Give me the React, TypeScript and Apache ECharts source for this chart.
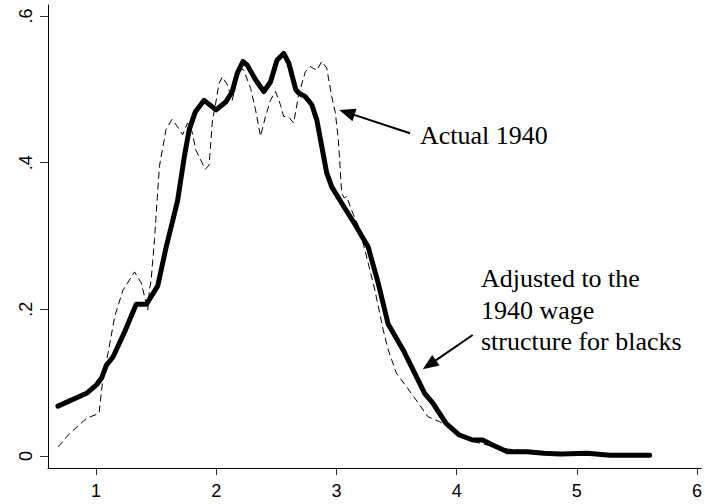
import React, { useEffect, useRef } from "react";
import * as echarts from "echarts";

// Adjusted to the 1940 wage structure for blacks (solid, thick)
const adjusted: [number, number][] = [
  [0.683, 0.068], [0.921, 0.0855], [1.003, 0.097], [1.045, 0.106], [1.086, 0.124],
  [1.141, 0.135], [1.237, 0.169], [1.334, 0.207], [1.419, 0.207], [1.513, 0.232],
  [1.582, 0.284], [1.678, 0.348], [1.734, 0.408], [1.775, 0.445], [1.825, 0.469],
  [1.899, 0.485], [1.999, 0.472], [2.081, 0.483], [2.133, 0.497], [2.175, 0.522],
  [2.222, 0.538], [2.258, 0.533], [2.327, 0.513], [2.396, 0.497], [2.451, 0.51],
  [2.506, 0.54], [2.561, 0.549], [2.603, 0.536], [2.661, 0.5], [2.685, 0.495],
  [2.741, 0.49], [2.795, 0.479], [2.837, 0.458], [2.878, 0.422], [2.919, 0.386],
  [2.961, 0.367], [3.058, 0.341], [3.154, 0.316], [3.264, 0.285], [3.347, 0.236],
  [3.43, 0.18], [3.554, 0.145], [3.651, 0.113], [3.734, 0.0855], [3.802, 0.072],
  [3.912, 0.0446], [4.023, 0.0286], [4.133, 0.0218], [4.216, 0.0218], [4.299, 0.015],
  [4.423, 0.0059], [4.588, 0.0059], [4.726, 0.0037], [4.864, 0.0027], [5.085, 0.0037],
  [5.277, 0.001], [5.443, 0.001], [5.606, 0.001],
];

// Actual 1940 (dashed, thin)
const actual: [number, number][] = [
  [0.683, 0.0123], [0.782, 0.031], [0.921, 0.0514], [1.025, 0.0582], [1.058, 0.108],
  [1.099, 0.14], [1.155, 0.19], [1.223, 0.226], [1.32, 0.251], [1.376, 0.236],
  [1.43, 0.199], [1.444, 0.226], [1.458, 0.24], [1.486, 0.295], [1.527, 0.395],
  [1.582, 0.445], [1.632, 0.459], [1.678, 0.449], [1.72, 0.438], [1.761, 0.454],
  [1.789, 0.449], [1.831, 0.417], [1.908, 0.391], [1.941, 0.397], [1.968, 0.458],
  [1.99, 0.476], [2.023, 0.508], [2.051, 0.517], [2.092, 0.506], [2.133, 0.485],
  [2.156, 0.502], [2.193, 0.53], [2.23, 0.526], [2.286, 0.501], [2.327, 0.472],
  [2.368, 0.436], [2.41, 0.463], [2.451, 0.485], [2.493, 0.497], [2.534, 0.479],
  [2.561, 0.463], [2.603, 0.462], [2.644, 0.454], [2.685, 0.492], [2.741, 0.524],
  [2.782, 0.531], [2.837, 0.526], [2.878, 0.538], [2.919, 0.529], [2.961, 0.49],
  [2.991, 0.468], [3.016, 0.431], [3.044, 0.358], [3.065, 0.352], [3.085, 0.354],
  [3.126, 0.335], [3.182, 0.314], [3.237, 0.281], [3.32, 0.226], [3.389, 0.172],
  [3.43, 0.145], [3.499, 0.113], [3.623, 0.0855], [3.761, 0.0536], [3.858, 0.0468],
  [3.926, 0.04], [4.023, 0.027], [4.133, 0.02], [4.257, 0.015], [4.423, 0.0095],
  [4.588, 0.0068], [4.753, 0.004], [5.0, 0.0027], [5.3, 0.0015], [5.606, 0.001],
];

const xTicks = [1, 2, 3, 4, 5, 6];
const yTicks = [0, 0.2, 0.4, 0.6];

const labelActual = "Actual 1940";
const labelAdjusted = ["Adjusted to the", "1940 wage", "structure for blacks"];

function arrow(tail: number[], tip: number[], headLen: number, headHalf: number) {
  const dx = tip[0] - tail[0];
  const dy = tip[1] - tail[1];
  const len = Math.sqrt(dx * dx + dy * dy);
  const ux = dx / len;
  const uy = dy / len;
  const bx = tip[0] - ux * headLen;
  const by = tip[1] - uy * headLen;
  const px = -uy;
  const py = ux;
  return [
    {
      type: "line",
      shape: { x1: tail[0], y1: tail[1], x2: bx + ux * 2, y2: by + uy * 2 },
      style: { stroke: "#000", lineWidth: 2 },
    },
    {
      type: "polygon",
      shape: {
        points: [
          [tip[0], tip[1]],
          [bx + px * headHalf, by + py * headHalf],
          [bx - px * headHalf, by - py * headHalf],
        ],
      },
      style: { fill: "#000" },
    },
  ];
}

export default function App() {
  const ref = useRef<HTMLDivElement>(null);
  useEffect(() => {
    if (!ref.current) return;
    const chart = echarts.init(ref.current, null, { renderer: "svg" });
    const serif = '"Liberation Serif", "Times New Roman", serif';
    const textStyle = (t: string, x: number, y: number) => ({
      type: "text",
      x,
      y,
      style: {
        text: t,
        fontFamily: serif,
        fontSize: 26,
        fill: "#000",
        align: "left",
        verticalAlign: "middle",
        textAlign: "left",
        textVerticalAlign: "middle",
      },
    });
    chart.setOption({
      animation: false,
      backgroundColor: "#fff",
      grid: { left: 48, top: 5, right: 0, bottom: 36, containLabel: false },
      xAxis: {
        type: "value",
        min: 0.6,
        max: 6.0356,
        splitLine: { show: false },
        axisLine: { show: true, onZero: false, lineStyle: { color: "#000", width: 1 } },
        axisTick: { show: true, length: 7, customValues: xTicks, lineStyle: { color: "#333" } },
        axisLabel: {
          customValues: xTicks,
          color: "#000",
          fontFamily: '"Liberation Sans", Arial, sans-serif',
          fontSize: 18,
          margin: 14,
          formatter: (v: number) => String(v),
        },
      },
      yAxis: {
        type: "value",
        min: -0.01636,
        max: 0.615,
        splitLine: { show: false },
        axisLine: { show: true, onZero: false, lineStyle: { color: "#000", width: 1 } },
        axisTick: { show: true, length: 8, customValues: yTicks, lineStyle: { color: "#333" } },
        axisLabel: {
          customValues: yTicks,
          rotate: 90,
          color: "#000",
          fontFamily: '"Liberation Sans", Arial, sans-serif',
          fontSize: 18,
          margin: 13,
          formatter: (v: number) => (v === 0 ? "0" : String(v).replace(/^0/, "")),
        },
      },
      series: [
        {
          type: "line",
          name: "Actual 1940",
          data: actual,
          showSymbol: false,
          symbol: "none",
          smooth: false,
          lineStyle: { color: "#000", width: 1, type: [7, 4] },
          z: 2,
        },
        {
          type: "line",
          name: "Adjusted",
          data: adjusted,
          showSymbol: false,
          symbol: "none",
          smooth: false,
          lineStyle: { color: "#000", width: 5, cap: "round", join: "round" },
          z: 3,
        },
      ],
      graphic: [
        ...arrow([410, 133.3], [339.3, 110], 16, 6.5),
        ...arrow([472.7, 335], [422.7, 369.3], 16, 6.5),
        textStyle(labelActual, 420, 135),
        textStyle(labelAdjusted[0], 481, 278.8),
        textStyle(labelAdjusted[1], 481, 310.1),
        textStyle(labelAdjusted[2], 481, 341.1),
      ],
    });
    return () => chart.dispose();
  }, []);
  return (
    <div
      ref={ref}
      style={{ position: "fixed", left: 0, top: 0, width: 705, height: 504, background: "#fff" }}
    />
  );
}
